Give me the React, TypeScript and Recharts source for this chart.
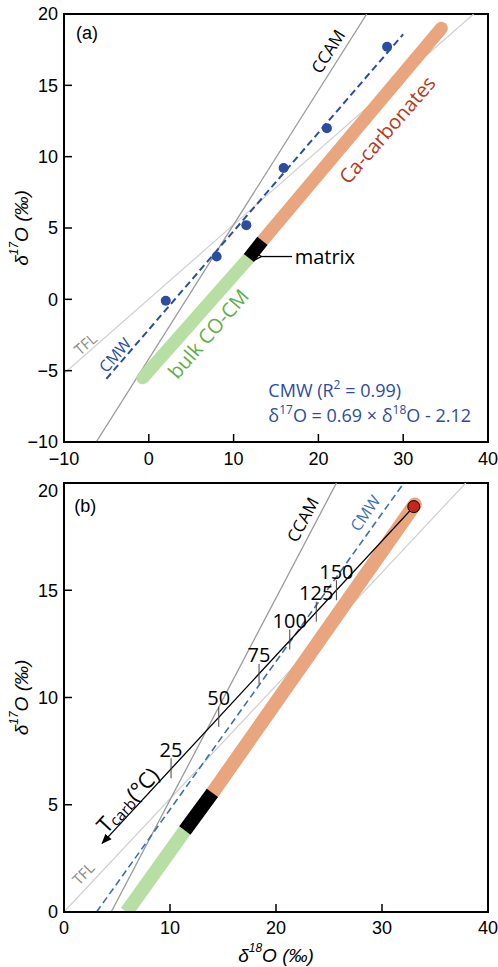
import React from "react"
import { ComposedChart, Line, Scatter, XAxis, YAxis, ReferenceArea, ReferenceDot } from "recharts"

const LABEL_FONT = "'Open Sans', 'Noto Sans', sans-serif"
const TICK_FONT = "'Liberation Sans', Arial, sans-serif"

const BLUE = "#2c4c9f"
const BLUE_LIGHT = "#3f6db5"
const GREEN = "#b7dfa4"
const ORANGE = "#e9a57e"
const GREEN_TEXT = "#5fae48"
const RED_TEXT = "#bd3520"

// ---- panel (a) ----
const domainXA = [-10, 40]
const domainYA = [-10, 20]
const xTicksA = [-10, 0, 10, 20, 30, 40]
const yTicksA = [-10, -5, 0, 5, 10, 15, 20]

const cmwPointsA = [
  { x: 2.0, y: -0.1 },
  { x: 8.0, y: 3.0 },
  { x: 11.5, y: 5.2 },
  { x: 15.9, y: 9.2 },
  { x: 21.0, y: 12.0 },
  { x: 28.1, y: 17.7 },
]
const cmwFitA = [
  { x: -5, y: -5.57 },
  { x: 30, y: 18.58 },
]
const ccamA = [
  { x: -6.2, y: -10 },
  { x: 25.7, y: 20 },
]
const tflA = [
  { x: -10, y: -5.2 },
  { x: 38.3, y: 20 },
]
const bulkA = [
  { x: -0.7, y: -5.5 },
  { x: 11.8, y: 2.9 },
]
const matrixA = [
  { x: 11.8, y: 2.9 },
  { x: 13.4, y: 4.1 },
]
const carbA = [
  { x: 13.4, y: 4.1 },
  { x: 34.5, y: 19.0 },
]
const matrixArrowA = [
  { x: 16.9, y: 3.0 },
  { x: 13.3, y: 3.0 },
]

// ---- panel (b) ----
const domainXB = [0, 40]
const domainYB = [0, 20]
const xTicksB = [0, 10, 20, 30, 40]
const yTicksB = [0, 5, 10, 15, 20]

const cmwFitB = [
  { x: 3.07, y: 0 },
  { x: 32.06, y: 20 },
]
const ccamB = [
  { x: 4.45, y: 0 },
  { x: 25.7, y: 20 },
]
const tflB = [
  { x: 0, y: 0 },
  { x: 37.9, y: 20 },
]
const bulkB = [
  { x: 5.9, y: 0 },
  { x: 11.4, y: 3.8 },
]
const matrixB = [
  { x: 11.4, y: 3.8 },
  { x: 14.0, y: 5.55 },
]
const carbB = [
  { x: 14.0, y: 5.55 },
  { x: 33.1, y: 19.0 },
]
const tcarbPath = [
  { x: 33.0, y: 18.9 },
  { x: 3.6, y: 3.2 },
]
const tcarbMarks = [
  { x: 10.1, y: 6.7, t: "25" },
  { x: 14.6, y: 9.1, t: "50" },
  { x: 18.4, y: 11.1, t: "75" },
  { x: 21.3, y: 12.7, t: "100" },
  { x: 23.8, y: 14.0, t: "125" },
  { x: 25.7, y: 15.0, t: "150" },
]
const carbEndB = [{ x: 33.0, y: 18.9 }]

const Tag = (props: any) => {
  const { viewBox, rot = 0, color = "#000", size = 16, family = LABEL_FONT, anchor = "middle", children } = props
  const cx = viewBox.x + viewBox.width / 2
  const cy = viewBox.y + viewBox.height / 2
  return (
    <text
      x={cx}
      y={cy}
      fill={color}
      fontSize={size}
      fontFamily={family}
      textAnchor={anchor}
      dominantBaseline="central"
      transform={rot ? `rotate(${rot} ${cx} ${cy})` : undefined}
    >
      {children}
    </text>
  )
}

const YLab = ({ viewBox }: any) => {
  const cx = viewBox.x + 21
  const cy = viewBox.y + viewBox.height / 2
  return (
    <text
      x={cx}
      y={cy}
      transform={`rotate(-90 ${cx} ${cy})`}
      textAnchor="middle"
      dominantBaseline="central"
      fontStyle="italic"
      fontSize={19}
      fontFamily={TICK_FONT}
      fill="#000"
    >
      δ<tspan dy={-7} fontSize={12}>17</tspan>
      <tspan dy={7}>O (‰)</tspan>
    </text>
  )
}

const XLab = ({ viewBox }: any) => {
  const cx = viewBox.x + viewBox.width / 2
  const cy = viewBox.y + 43
  return (
    <text x={cx} y={cy} textAnchor="middle" dominantBaseline="central" fontStyle="italic" fontSize={19} fontFamily={TICK_FONT} fill="#000">
      δ<tspan dy={-7} fontSize={12}>18</tspan>
      <tspan dy={7}>O (‰)</tspan>
    </text>
  )
}

const BlueDot = (p: any) => <circle cx={p.cx} cy={p.cy} r={5} fill={BLUE} />

const RedDot = (p: any) => <circle cx={p.cx} cy={p.cy} r={6} fill="#c4281c" stroke="#000" strokeWidth={1} />

const TempMark = (p: any) => (
  <g>
    <line x1={p.cx} x2={p.cx} y1={p.cy - 10} y2={p.cy + 10} stroke="#444" strokeWidth={1} />
    <text x={p.cx} y={p.cy - 19} textAnchor="middle" dominantBaseline="central" fontSize={20} fontFamily={LABEL_FONT} fill="#000">
      {p.payload.t}
    </text>
  </g>
)

const tickStyle = { fontSize: 18, fontFamily: TICK_FONT, fill: "#000" }

const seg = (data: any[], stroke: string, width: number, extra: any = {}) => (
  <Line
    data={data}
    dataKey="y"
    stroke={stroke}
    strokeWidth={width}
    dot={false}
    activeDot={false}
    isAnimationActive={false}
    legendType="none"
    {...extra}
  />
)

const dot = (x: number, y: number, label: any) => (
  <ReferenceDot x={x} y={y} r={0} fill="none" stroke="none" label={label} />
)

export default function App() {
  return (
    <div style={{ position: "absolute", left: 0, top: 0, width: 498, height: 967, background: "#fff" }}>
      <ComposedChart width={498} height={480} margin={{ top: 14, right: 10, left: 0, bottom: 0 }}>
        <defs>
          <marker id="openArrow" viewBox="0 0 10 10" refX="1" refY="5" markerWidth="7" markerHeight="7" orient="auto-start-reverse">
            <path d="M9,1 L1,5 L9,9" fill="none" stroke="#000" strokeWidth={1.4} />
          </marker>
        </defs>
        <XAxis
          dataKey="x"
          type="number"
          domain={domainXA}
          ticks={xTicksA}
          allowDataOverflow
          height={38}
          tickSize={-8}
          tickMargin={18}
          tick={tickStyle}
          stroke="#000"
          axisLine={{ stroke: "#000", strokeWidth: 2 }}
          tickLine={{ stroke: "#000", strokeWidth: 1.5 }}
          tickFormatter={(v) => (v < 0 ? `\u2212${-v}` : `${v}`)}
        />
        <YAxis
          type="number"
          domain={domainYA}
          ticks={yTicksA}
          allowDataOverflow
          width={64}
          tickSize={-8}
          tickMargin={14}
          tick={tickStyle}
          axisLine={{ stroke: "#000", strokeWidth: 2 }}
          tickLine={{ stroke: "#000", strokeWidth: 1.5 }}
          tickFormatter={(v) => (v < 0 ? `\u2212${-v}` : `${v}`)}
          label={<YLab />}
        />
        <ReferenceArea x1={domainXA[0]} x2={domainXA[1]} y1={domainYA[0]} y2={domainYA[1]} fill="none" stroke="#000" strokeWidth={2} />
        {seg(tflA, "#cfcfcf", 1.2)}
        {seg(ccamA, "#9a9a9a", 1.3)}
        {seg(bulkA, GREEN, 13, { strokeLinecap: "round" })}
        {seg(carbA, ORANGE, 13, { strokeLinecap: "round" })}
        {seg(matrixA, "#000", 13, { strokeLinecap: "butt" })}
        {seg(cmwFitA, BLUE, 2, { strokeDasharray: "7 4" })}
        {seg(matrixArrowA, "#000", 1.3, { markerEnd: "url(#openArrow)" })}
        <Scatter data={cmwPointsA} dataKey="y" shape={<BlueDot />} isAnimationActive={false} />
        {dot(-7.3, 18.7, <Tag family={TICK_FONT} size={18}>(a)</Tag>)}
        {dot(21.1, 17.4, <Tag rot={-58} size={17}>CCAM</Tag>)}
        {dot(28.1, 11.9, <Tag rot={-49} size={20} color={RED_TEXT}>Ca-carbonates</Tag>)}
        {dot(7.0, -2.4, <Tag rot={-49} size={20} color={GREEN_TEXT}>bulk CO-CM</Tag>)}
        {dot(-4.0, -3.9, <Tag rot={-49} size={16} color={BLUE}>CMW</Tag>)}
        {dot(-7.5, -3.1, <Tag rot={-41} size={15} color="#8a8a8a">TFL</Tag>)}
        {dot(17.2, 3.0, <Tag anchor="start" size={20}>matrix</Tag>)}
        {dot(14.1, -6.35, <Tag anchor="start" size={18} color={BLUE}>CMW (R<tspan dy={-6} fontSize={12}>2</tspan><tspan dy={6}> = 0.99)</tspan></Tag>)}
        {dot(14.1, -8.1, (
          <Tag anchor="start" size={18} color={BLUE}>
            δ<tspan dy={-6} fontSize={12}>17</tspan>
            <tspan dy={6}>O = 0.69  × δ</tspan>
            <tspan dy={-6} fontSize={12}>18</tspan>
            <tspan dy={6}>O - 2.12</tspan>
          </Tag>
        ))}
      </ComposedChart>

      <ComposedChart width={498} height={487} margin={{ top: 3, right: 10, left: 0, bottom: 0 }}>
        <defs>
          <marker id="solidArrow" viewBox="0 0 10 10" refX="9" refY="5" markerWidth="8" markerHeight="8" orient="auto-start-reverse">
            <path d="M0,1 L10,5 L0,9 z" fill="#000" />
          </marker>
        </defs>
        <XAxis
          dataKey="x"
          type="number"
          domain={domainXB}
          ticks={xTicksB}
          allowDataOverflow
          height={55}
          tickSize={-8}
          tickMargin={17}
          tick={tickStyle}
          axisLine={{ stroke: "#000", strokeWidth: 2 }}
          tickLine={{ stroke: "#000", strokeWidth: 1.5 }}
          label={<XLab />}
        />
        <YAxis
          type="number"
          domain={domainYB}
          ticks={yTicksB}
          allowDataOverflow
          width={64}
          tickSize={-8}
          tickMargin={14}
          tick={tickStyle}
          axisLine={{ stroke: "#000", strokeWidth: 2 }}
          tickLine={{ stroke: "#000", strokeWidth: 1.5 }}
          label={<YLab />}
        />
        <ReferenceArea x1={domainXB[0]} x2={domainXB[1]} y1={domainYB[0]} y2={domainYB[1]} fill="none" stroke="#000" strokeWidth={2} />
        {seg(tflB, "#cfcfcf", 1.2)}
        {seg(ccamB, "#9a9a9a", 1.3)}
        {seg(bulkB, GREEN, 14, { strokeLinecap: "butt" })}
        {seg(carbB, ORANGE, 14, { strokeLinecap: "round" })}
        {seg(matrixB, "#000", 14, { strokeLinecap: "butt" })}
        {seg(cmwFitB, BLUE_LIGHT, 1.6, { strokeDasharray: "7 4" })}
        {seg(tcarbPath, "#000", 1.3, { markerEnd: "url(#solidArrow)" })}
        <Scatter data={tcarbMarks} dataKey="y" shape={<TempMark />} isAnimationActive={false} />
        <Scatter data={carbEndB} dataKey="y" shape={<RedDot />} isAnimationActive={false} />
        {dot(2.0, 18.95, <Tag family={TICK_FONT} size={18}>(b)</Tag>)}
        {dot(22.5, 18.3, <Tag rot={-62} size={17}>CCAM</Tag>)}
        {dot(28.4, 18.6, <Tag rot={-55} size={16} color={BLUE_LIGHT}>CMW</Tag>)}
        {dot(1.8, 1.8, <Tag rot={-46} size={15} color="#8a8a8a">TFL</Tag>)}
        {dot(5.95, 5.25, (
          <Tag rot={-47} size={22}>
            T<tspan dy={5} fontSize={15}>carb</tspan>
            <tspan dy={-5}>(°C)</tspan>
          </Tag>
        ))}
      </ComposedChart>
    </div>
  )
}
